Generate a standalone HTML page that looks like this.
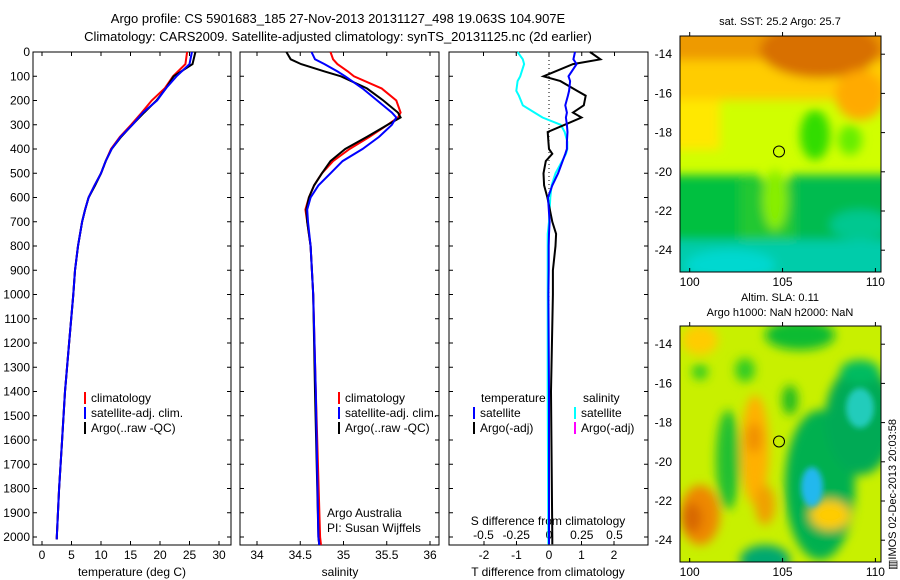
<!DOCTYPE html>
<html><head><meta charset="utf-8"><style>
body{margin:0;background:#fff;}
svg{display:block;font-family:"Liberation Sans",sans-serif;}
</style></head><body>
<svg id="fig" width="900" height="580" viewBox="0 0 900 580">
<defs>
<clipPath id="c1"><rect x="680" y="36" width="201" height="236"/></clipPath>
<clipPath id="c2"><rect x="680" y="326" width="201" height="236"/></clipPath>
<filter id="bl" x="-20%" y="-20%" width="140%" height="140%"><feGaussianBlur stdDeviation="5"/></filter>
<filter id="bl2" x="-20%" y="-20%" width="140%" height="140%"><feGaussianBlur stdDeviation="3"/></filter>
</defs>
<g font-size="13" text-anchor="middle">
<text x="338" y="23">Argo profile: CS 5901683_185 27-Nov-2013 20131127_498 19.063S 104.907E</text>
<text x="338" y="41">Climatology: CARS2009. Satellite-adjusted climatology: synTS_20131125.nc (2d earlier)</text>
</g>
<g clip-path="url(#c1)">
<rect x="680" y="36" width="201" height="236" fill="#d0ff00"/>
<g filter="url(#bl)">
<rect x="660" y="20" width="240" height="50" fill="#ee9a00"/>
<rect x="660" y="60" width="240" height="40" fill="#ffcc00"/>
<ellipse cx="820" cy="50" rx="60" ry="28" fill="#d87000"/>
<ellipse cx="860" cy="95" rx="25" ry="25" fill="#ffaa00"/>
<rect x="660" y="100" width="60" height="50" fill="#ffe800"/>
<ellipse cx="815" cy="135" rx="15" ry="25" fill="#33dd00"/>
<ellipse cx="850" cy="140" rx="12" ry="15" fill="#66ee00"/>
<rect x="660" y="175" width="100" height="110" fill="#00c040"/>
<rect x="790" y="175" width="110" height="110" fill="#00bb50"/>
<rect x="740" y="180" width="55" height="70" fill="#22c830"/>
<ellipse cx="775" cy="200" rx="12" ry="30" fill="#88ee00"/>
<rect x="660" y="240" width="240" height="40" fill="#00ccaa"/>
<ellipse cx="730" cy="265" rx="45" ry="15" fill="#00d8d0"/>
<ellipse cx="860" cy="225" rx="30" ry="15" fill="#00c890"/>
</g>
</g>
<rect x="680" y="36" width="201" height="236" fill="none" stroke="#000"/>
<circle cx="779" cy="151.5" r="5.5" fill="none" stroke="#000"/>
<text x="780" y="25" font-size="11" text-anchor="middle">sat. SST: 25.2 Argo: 25.7</text>
<g clip-path="url(#c2)">
<rect x="680" y="326" width="201" height="236" fill="#c8f000"/>
<g filter="url(#bl)">
<ellipse cx="800" cy="335" rx="35" ry="15" fill="#11bb33"/>
<ellipse cx="745" cy="370" rx="10" ry="12" fill="#33cc22"/>
<ellipse cx="700" cy="372" rx="8" ry="8" fill="#33cc22"/>
<ellipse cx="700" cy="340" rx="18" ry="15" fill="#ffcc00"/>
<ellipse cx="755" cy="450" rx="14" ry="55" fill="#ffb000"/>
<ellipse cx="754" cy="438" rx="8" ry="15" fill="#f09000"/>
<ellipse cx="765" cy="505" rx="10" ry="20" fill="#f0a000"/>
<ellipse cx="700" cy="515" rx="20" ry="30" fill="#ee8800"/>
<ellipse cx="692" cy="518" rx="10" ry="15" fill="#d86800"/>
<ellipse cx="728" cy="460" rx="12" ry="50" fill="#22c030"/>
<ellipse cx="820" cy="485" rx="35" ry="75" fill="#00b050"/>
<ellipse cx="860" cy="420" rx="35" ry="55" fill="#00aa55"/>
<ellipse cx="860" cy="372" rx="20" ry="12" fill="#00bb60"/>
<ellipse cx="830" cy="515" rx="20" ry="15" fill="#ffcc00"/>
<ellipse cx="765" cy="560" rx="25" ry="15" fill="#00a870"/>
<ellipse cx="790" cy="400" rx="8" ry="15" fill="#22bb22"/>
</g>
<g filter="url(#bl2)">
<ellipse cx="812" cy="487" rx="11" ry="20" fill="#22b8ee"/>
<ellipse cx="860" cy="408" rx="14" ry="20" fill="#22ccbb"/>
</g>
</g>
<rect x="680" y="326" width="201" height="236" fill="none" stroke="#000"/>
<circle cx="779" cy="441.5" r="5.5" fill="none" stroke="#000"/>
<text x="780" y="301" font-size="11" text-anchor="middle">Altim. SLA: 0.11</text>
<text x="780" y="316" font-size="11" text-anchor="middle">Argo h1000: NaN h2000: NaN</text>
<text transform="translate(896,570) rotate(-90)" font-size="11">▥IMOS 02-Dec-2013 20:03:58</text>
<g id="axes"></g>
</svg>
<script>
const depthTicks=[0,100,200,300,400,500,600,700,800,900,1000,1100,1200,1300,1400,1500,1600,1700,1800,1900,2000];
const tempTicks=[0,5,10,15,20,25,30];
const salTicks=[34,34.5,35,35.5,36];
const tdiffTicks=[-2,-1,0,1,2];
const sdiffTicks=[-0.5,-0.25,0,0.25,0.5];
const sdiffTickLabels=["-0.5","-0.25","0","0.25","0.5"];
const lonTicks=[100,105,110];
const latTicks=[-14,-16,-18,-20,-22,-24];

const tDepth=[0,50,100,150,200,250,300,350,400,450,500,550,600,650,700,800,900,1000,1200,1400,1600,1800,2000,2010];
const tArgo=[26,25.5,22.3,21,19.4,17.3,15.3,13.4,11.8,10.8,10,9,7.9,7.3,6.8,6.1,5.6,5.3,4.6,3.9,3.4,2.9,2.5,2.5];
const tClim=[24.6,24.3,22.2,20.8,18.6,16.9,15.1,13.2,11.7,10.8,10,8.9,7.9,7.3,6.8,6.1,5.6,5.3,4.6,3.9,3.4,2.9,2.5,2.5];
const tSat=[25.4,25,22.8,21,19.5,17.1,15.3,13.3,11.8,10.8,10,8.9,7.9,7.3,6.8,6.1,5.6,5.3,4.6,3.9,3.4,2.9,2.5,2.5];

const sDepth=[0,30,50,80,100,150,200,250,270,300,350,400,450,500,550,600,650,700,800,1000,1400,2000,2033];
const sArgo=[34.34,34.39,34.51,34.78,34.97,35.27,35.46,35.63,35.66,35.51,35.27,35.02,34.85,34.75,34.66,34.6,34.57,34.58,34.62,34.65,34.67,34.71,34.72];
const sClim=[34.85,34.88,34.93,35.05,35.12,35.44,35.61,35.66,35.63,35.51,35.3,35.07,34.88,34.75,34.66,34.6,34.56,34.58,34.62,34.65,34.68,34.73,34.74];
const sSat=[34.63,34.67,34.78,34.93,35.02,35.22,35.39,35.56,35.61,35.56,35.41,35.22,34.99,34.85,34.71,34.62,34.58,34.59,34.62,34.65,34.68,34.71,34.72];

const dDepth=[0,30,50,100,120,160,180,220,250,270,300,330,370,400,420,450,500,550,600,700,750,800,900,1000,1400,2000,2030];
const dtArgo=[1.26,1.58,0.74,-0.17,0.35,0.86,1.13,1.07,0.74,1.0,0.48,-0.04,-0.02,0,0.1,-0.1,-0.17,-0.15,-0.05,0.1,0.22,0.2,0.12,0.12,0.06,0.1,0.1];
const dtSat=[0.8,0.75,0.85,0.6,0.65,0.62,0.58,0.5,0.55,0.52,0.55,0.57,0.55,0.55,0.5,0.42,0.28,0.1,-0.03,0.02,0,-0.01,-0.01,-0.02,0,0,0];
const dsSat=[-0.24,-0.2,-0.19,-0.22,-0.24,-0.25,-0.23,-0.2,-0.11,-0.05,0.09,0.12,0.14,0.14,0.13,0.1,0.05,0.02,0.01,0.0,-0.01,-0.01,-0.01,-0.01,-0.01,-0.005,-0.005];

const yTop=52,yBot=545;
const yD=d=>yTop+d*0.2425;
const xT=v=>42+v*5.9;
const xS=v=>257+(v-34)*86.5;
const xDT=v=>549+v*32.5;
const xDS=v=>549+v*131;
const xLon=v=>689.7+(v-100)*18.57;
const yLat=v=>54.2+(-14-v)*19.6;

const NS="http://www.w3.org/2000/svg";
const g=document.getElementById('axes');
function mk(tag,attrs,parent){const e=document.createElementNS(NS,tag);for(const k in attrs)e.setAttribute(k,attrs[k]);(parent||g).appendChild(e);return e;}
function txt(x,y,s,size,anchor,parent){const e=mk('text',{x:x,y:y,'font-size':size,'text-anchor':anchor},parent);e.textContent=s;return e;}

const panels=[{x0:33,x1:231,name:'temperature-panel'},{x0:240,x1:439,name:'salinity-panel'},{x0:449,x1:648,name:'difference-panel'}];
panels.forEach(p=>{
  const r=mk('rect',{x:p.x0,y:yTop,width:p.x1-p.x0,height:yBot-yTop,fill:'none',stroke:'#000'});
  
  
  depthTicks.forEach(d=>{
    mk('line',{x1:p.x0,x2:p.x0+4,y1:yD(d),y2:yD(d),stroke:'#000'});
    mk('line',{x1:p.x1,x2:p.x1-4,y1:yD(d),y2:yD(d),stroke:'#000'});
  });
});
depthTicks.forEach(d=>{
  const t=txt(30,yD(d)+4,String(d),12,'end');
  
  
});
function xticks(ticks,fx,labels,y,topTicks){
  ticks.forEach((v,i)=>{
    const x=fx(v);
    mk('line',{x1:x,x2:x,y1:yBot,y2:yBot-4,stroke:'#000'});
    if(topTicks)mk('line',{x1:x,x2:x,y1:yTop,y2:yTop+4,stroke:'#000'});
    const t=txt(x,y,labels?labels[i]:String(v),12,'middle');
    
    
  });
}
xticks(tempTicks,xT,null,559,true);
xticks(salTicks,xS,null,559,true);
xticks(tdiffTicks,xDT,null,559,false);
sdiffTicks.forEach((v,i)=>{
  const x=xDS(v);
  mk('line',{x1:x,x2:x,y1:yTop,y2:yTop+4,stroke:'#000'});
  const t=txt(x,539,sdiffTickLabels[i],12,'middle');
  
  
});
let t;
t=txt(132,576,'temperature (deg C)',12,'middle');
t=txt(340,576,'salinity',12,'middle');
t=txt(548,576,'T difference from climatology',12,'middle');
t=txt(548,525,'S difference from climatology',12,'middle');
const zl=mk('line',{x1:xDT(0),x2:xDT(0),y1:yTop,y2:yBot,stroke:'#000','stroke-dasharray':'1,3'});



function series(xs,ds,fx,color,name){
  const pts=xs.map((v,i)=>fx(v).toFixed(1)+','+yD(ds[i]).toFixed(1)).join(' ');
  const l=mk('polyline',{points:pts,fill:'none',stroke:color,'stroke-width':2});
  
  
}
series(tClim,tDepth,xT,'#f00','temp-climatology-line');
series(tArgo,tDepth,xT,'#000','temp-argo-line');
series(tSat,tDepth,xT,'#00f','temp-satellite-line');
series(sClim,sDepth,xS,'#f00','sal-climatology-line');
series(sArgo,sDepth,xS,'#000','sal-argo-line');
series(sSat,sDepth,xS,'#00f','sal-satellite-line');
series(dsSat,dDepth,xDS,'#0ff','sdiff-satellite-line');
series(dtArgo,dDepth,xDT,'#000','tdiff-argo-line');
series(dtSat,dDepth,xDT,'#00f','tdiff-satellite-line');

function legend(x,y,items,name){
  items.forEach((it,i)=>{
    const yy=y+i*15;
    mk('line',{x1:x,x2:x,y1:yy-10,y2:yy+2,stroke:it[1],'stroke-width':2});
    const e=txt(x+6,yy,it[0],12,'start');
    
    
  });
}
legend(85,402,[['climatology','#f00'],['satellite-adj. clim.','#00f'],['Argo(..raw -QC)','#000']],'temp-legend');
legend(339,402,[['climatology','#f00'],['satellite-adj. clim.','#00f'],['Argo(..raw -QC)','#000']],'sal-legend');
legend(474,417,[['satellite','#00f'],['Argo(-adj)','#000']],'tdiff-legend');
legend(575,417,[['satellite','#0ff'],['Argo(-adj)','#f0f']],'sdiff-legend');
t=txt(481,402,'temperature',12,'start');
t=txt(583,402,'salinity',12,'start');
t=txt(327,517,'Argo Australia',12,'start');
t=txt(327,532,'PI: Susan Wijffels',12,'start');

[[36,272],[326,562]].forEach(([y0,y1],m)=>{
  lonTicks.forEach(v=>{
    const x=xLon(v);
    mk('line',{x1:x,x2:x,y1:y1,y2:y1-4,stroke:'#000'});
    mk('line',{x1:x,x2:x,y1:y0,y2:y0-4,stroke:'#000'});
    const e=txt(x,y1+14,String(v),12,'middle');
    
    
  });
  latTicks.forEach(v=>{
    const y=yLat(v)+(m?290:0);
    mk('line',{x1:881,x2:885,y1:y,y2:y,stroke:'#000'});
    const e=txt(672,y+4,String(v),12,'end');
    
    
  });
});
</script>
</body></html>
